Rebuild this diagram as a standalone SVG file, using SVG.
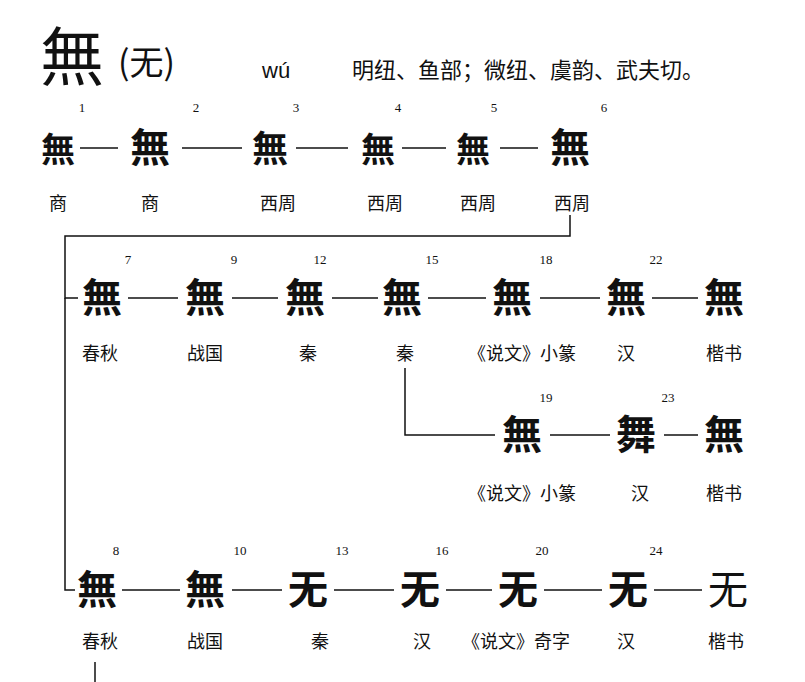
<svg xmlns="http://www.w3.org/2000/svg" width="805" height="682" viewBox="0 0 805 682">
<style>
text{font-family:"Noto Sans CJK SC","Liberation Serif",serif;fill:#111}
.g{font-size:40px;font-weight:bold;text-anchor:middle}
.n{font-size:13px;font-family:"Liberation Serif",serif;text-anchor:middle}
.l{font-size:18px;text-anchor:middle}
.c line,.c polyline{stroke:#111;stroke-width:1.5;fill:none}
</style>
<rect width="805" height="682" fill="#fff"/>
<g id="title">
<text x="40" y="80" style="font-size:64px">無</text>
<text x="118" y="75" style="font-size:34px">(无)</text>
<text x="262" y="78" style="font-size:22px;font-family:'Liberation Sans',sans-serif">wú</text>
<text x="352" y="78" style="font-size:22px">明纽、鱼部；微纽、虞韵、武夫切。</text>
</g>
<g class="c" id="connectors">
<line x1="80" y1="148" x2="118" y2="148"/><line x1="182" y1="148" x2="242" y2="148"/><line x1="296" y1="148" x2="348" y2="148"/><line x1="402" y1="148" x2="446" y2="148"/><line x1="500" y1="148" x2="538" y2="148"/>
<polyline points="570,215 570,236 65,236 65,298 78,298"/>
<line x1="128" y1="298" x2="178" y2="298"/><line x1="232" y1="298" x2="278" y2="298"/><line x1="332" y1="298" x2="378" y2="298"/><line x1="428" y1="298" x2="486" y2="298"/><line x1="540" y1="298" x2="600" y2="298"/><line x1="652" y1="298" x2="698" y2="298"/>
<polyline points="405,368 405,435 495,435"/>
<line x1="550" y1="435" x2="610" y2="435"/><line x1="664" y1="435" x2="698" y2="435"/>
<polyline points="65,298 65,590 75,590"/>
<line x1="122" y1="590" x2="180" y2="590"/><line x1="232" y1="590" x2="282" y2="590"/><line x1="334" y1="590" x2="394" y2="590"/><line x1="446" y1="590" x2="492" y2="590"/><line x1="544" y1="590" x2="602" y2="590"/><line x1="654" y1="590" x2="702" y2="590"/>
<line x1="95" y1="662" x2="95" y2="682"/>
</g>
<g id="row1">
<text class="g" x="58" y="162" style="font-size:34px">無</text><text class="n" x="82" y="112">1</text><text class="l" x="58" y="210">商</text>
<text class="g" x="150" y="162">無</text><text class="n" x="196" y="112">2</text><text class="l" x="150" y="210">商</text>
<text class="g" x="270" y="162" style="font-size:36px">無</text><text class="n" x="296" y="112">3</text><text class="l" x="278" y="210">西周</text>
<text class="g" x="378" y="162" style="font-size:34px">無</text><text class="n" x="398" y="112">4</text><text class="l" x="385" y="210">西周</text>
<text class="g" x="473" y="162" style="font-size:34px">無</text><text class="n" x="494" y="112">5</text><text class="l" x="478" y="210">西周</text>
<text class="g" x="570" y="162">無</text><text class="n" x="604" y="112">6</text><text class="l" x="572" y="210">西周</text>
</g>
<g id="row2">
<text class="g" x="102" y="312">無</text><text class="n" x="128" y="264">7</text><text class="l" x="100" y="360">春秋</text>
<text class="g" x="205" y="312">無</text><text class="n" x="234" y="264">9</text><text class="l" x="205" y="360">战国</text>
<text class="g" x="305" y="312">無</text><text class="n" x="320" y="264">12</text><text class="l" x="308" y="360">秦</text>
<text class="g" x="402" y="312">無</text><text class="n" x="432" y="264">15</text><text class="l" x="405" y="360">秦</text>
<text class="g" x="512" y="312">無</text><text class="n" x="546" y="264">18</text><text class="l" x="522" y="360">《说文》小篆</text>
<text class="g" x="626" y="312">無</text><text class="n" x="656" y="264">22</text><text class="l" x="626" y="360">汉</text>
<text class="g" x="724" y="312">無</text><text class="l" x="724" y="360">楷书</text>
</g>
<g id="row3">
<text class="g" x="522" y="449">無</text><text class="n" x="546" y="402">19</text><text class="l" x="522" y="500">《说文》小篆</text>
<text class="g" x="636" y="449">舞</text><text class="n" x="668" y="402">23</text><text class="l" x="640" y="500">汉</text>
<text class="g" x="724" y="449">無</text><text class="l" x="724" y="500">楷书</text>
</g>
<g id="row4">
<text class="g" x="97" y="604">無</text><text class="n" x="116" y="555">8</text><text class="l" x="100" y="648">春秋</text>
<text class="g" x="205" y="604">無</text><text class="n" x="240" y="555">10</text><text class="l" x="205" y="648">战国</text>
<text class="g" x="308" y="604">无</text><text class="n" x="342" y="555">13</text><text class="l" x="320" y="648">秦</text>
<text class="g" x="420" y="604">无</text><text class="n" x="442" y="555">16</text><text class="l" x="422" y="648">汉</text>
<text class="g" x="518" y="604">无</text><text class="n" x="542" y="555">20</text><text class="l" x="516" y="648">《说文》奇字</text>
<text class="g" x="628" y="604">无</text><text class="n" x="656" y="555">24</text><text class="l" x="626" y="648">汉</text>
<text class="g" x="728" y="604" style="font-weight:normal">无</text><text class="l" x="726" y="648">楷书</text>
</g>
</svg>
